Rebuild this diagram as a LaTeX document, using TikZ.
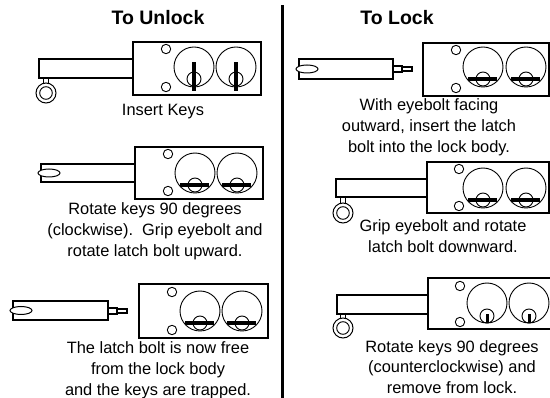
\documentclass[tikz,border=0pt]{standalone}
\usepackage{fontspec}
\setmainfont{Liberation Sans}
\tikzset{
  bodyline/.style={line width=1.7pt},
  thinline/.style={line width=0.9pt},
  caption/.style={align=center,inner sep=0pt,font=\fontsize{16.4}{20.8}\selectfont},
  heading/.style={inner sep=0pt,font=\fontsize{19.5}{22}\selectfont\bfseries}
}
% one cylinder with the key standing up, lying flat, or pulled out
\newcommand{\keyup}[2]{%
  \draw[thinline] (#1,#2) circle[radius=20pt];
  \draw[thinline] (#1,#2+12) circle[radius=7pt];
  \fill (#1-2,#2-5) rectangle (#1+2,#2+24);
}
\newcommand{\keyflat}[2]{%
  \draw[thinline] (#1,#2) circle[radius=20pt];
  \draw[thinline] (#1,#2+12) circle[radius=7pt];
  \fill (#1-15,#2+10) rectangle (#1+14,#2+14);
}
\newcommand{\keyout}[2]{%
  \draw[thinline] (#1,#2) circle[radius=20pt];
  \draw[thinline] (#1,#2+13) circle[radius=7pt];
  \fill (#1-1.5,#2+11) rectangle (#1+1.5,#2+20);
}
\newcommand{\rivets}[3]{%
  \draw[thinline] (#1,#2) circle[radius=4.7pt];
  \draw[thinline] (#1,#3) circle[radius=4.7pt];
}
% eyebolt seen from the side
\newcommand{\eyering}[2]{%
  \draw[thinline] (#1-2.5,#2-15) -- (#1-2.5,#2-9) (#1+2.5,#2-15) -- (#1+2.5,#2-9);
  \draw[line width=1pt] (#1,#2) circle[radius=10pt];
  \draw[thinline] (#1,#2) circle[radius=6.3pt];
}
% eyebolt seen end on
\newcommand{\eyeflat}[2]{%
  \draw[line width=1pt,fill=white] (#1,#2) ellipse[x radius=11pt,y radius=4pt];
}
% tip of the latch bolt
\newcommand{\bolttip}[2]{%
  \draw[bodyline,fill=white] (#1,#2-3) rectangle (#1+9,#2+3);
  \draw[bodyline,fill=white] (#1+9,#2-2) rectangle (#1+19,#2+2);
}
\begin{document}
\begin{tikzpicture}[x=1pt,y=-1pt]
    \useasboundingbox (0,0) rectangle (550,398);

    \node[heading] (unlock) at (158,18) {To Unlock};
    \node[heading] (lock) at (397,18) {To Lock};
    \fill (280.5,5) rectangle (284,398);

    % to unlock
    \draw[bodyline] (133,42) rectangle (261,95);
    \draw[bodyline] (133,59) -- (39,59) -- (39,78) -- (133,78);
    \rivets{166}{49}{87}
    \keyup{194}{67}
    \keyup{236}{67}
    \eyering{46}{93}
    \node[caption] (insert) at (163,112) {Insert Keys};

    \draw[bodyline] (135,147) rectangle (263,199);
    \draw[bodyline] (135,164) -- (41,164) -- (41,182) -- (135,182);
    \rivets{168}{154}{191}
    \keyflat{195}{173}
    \keyflat{237}{173}
    \eyeflat{49}{173}
    \node[caption] (rotateup) at (155,231) {Rotate keys 90 degrees\\(clockwise).\ \ Grip eyebolt and\\rotate latch bolt upward.};

    \draw[bodyline] (139,284) rectangle (268,338);
    \draw[bodyline] (13,301) rectangle (108,320);
    \rivets{172}{292}{330}
    \keyflat{200}{311}
    \keyflat{242}{311}
    \bolttip{108}{311}
    \eyeflat{21}{310.5}
    \node[caption] (free) at (158,370) {The latch bolt is now free\\from the lock body\\and the keys are trapped.};

    % to lock
    \draw[bodyline] (423,43) rectangle (549,96);
    \draw[bodyline] (299,59) rectangle (393,79);
    \rivets{456}{50}{88}
    \keyflat{483}{67}
    \keyflat{526}{67}
    \bolttip{393}{69}
    \eyeflat{307}{69}
    \node[caption] (insertbolt) at (429,127) {With eyebolt facing\\outward, insert the latch\\bolt into the lock body.};

    \draw[bodyline] (427,162) rectangle (549,213);
    \draw[bodyline] (427,179) -- (336,179) -- (336,197) -- (427,197);
    \rivets{459}{169}{206}
    \keyflat{483}{188}
    \keyflat{526}{188}
    \eyering{343}{213}
    \node[caption] (rotatedown) at (443,236) {Grip eyebolt and rotate\\latch bolt downward.};

    \draw[bodyline] (556,278) -- (428,278) -- (428,329) -- (556,329);
    \draw[bodyline] (428,295) -- (337,295) -- (337,314) -- (428,314);
    \rivets{460}{286}{322}
    \keyout{487}{303}
    \keyout{529}{303}
    \eyering{343}{328}
    \node[caption] (remove) at (452,367) {Rotate keys 90 degrees\\(counterclockwise) and\\remove from lock.};
\end{tikzpicture}
\end{document}
